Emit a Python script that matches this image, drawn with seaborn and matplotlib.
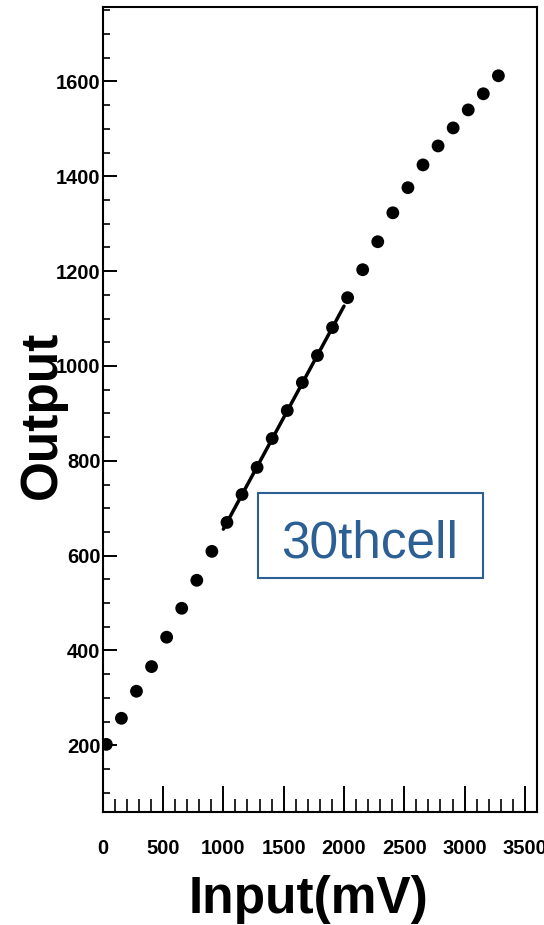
import numpy as np
import pandas as pd
import matplotlib
matplotlib.use("Agg")
import matplotlib.pyplot as plt
from matplotlib.patches import Rectangle
from matplotlib.ticker import MultipleLocator
import seaborn as sns

# Measured response of the 30th cell
input_mv = [30, 155, 280, 405, 530, 655, 780, 905, 1030, 1155, 1280, 1405, 1530,
            1655, 1780, 1905, 2030, 2155, 2280, 2405, 2530, 2655, 2780, 2905,
            3030, 3155, 3280]
output = [202, 257, 314, 366, 428, 489, 548, 609, 670, 729, 786, 847, 906,
          965, 1022, 1081, 1144, 1203, 1262, 1323, 1376, 1424, 1464, 1502,
          1540, 1574, 1612]

# Linear fit range (mV)
fit_lo, fit_hi = 1000, 2000
cell_label = "30thcell"

df = pd.DataFrame({"Input": input_mv, "Output": output})

sns.set_theme(style="ticks")
plt.rcParams["font.family"] = ["Liberation Sans", "DejaVu Sans"]

W, H = 544, 925
fig = plt.figure(figsize=(W / 100, H / 100), dpi=100)
fig.patch.set_facecolor("white")

# axes frame in pixel coordinates
ax_l, ax_r, ax_t, ax_b = 102.7, 537.0, 7.0, 811.7
ax = fig.add_axes([ax_l / W, 1 - ax_b / H, (ax_r - ax_l) / W, (ax_b - ax_t) / H])
ax.set_facecolor("white")

sns.scatterplot(data=df, x="Input", y="Output", ax=ax, color="black",
                s=85, edgecolor="none", linewidth=0, zorder=3)

# straight-line fit over the selected input range
sel = df[(df["Input"] >= fit_lo) & (df["Input"] <= fit_hi)]
slope, intercept = np.polyfit(sel["Input"], sel["Output"], 1)
fit_df = pd.DataFrame({"Input": [fit_lo, fit_hi],
                       "Output": [slope * fit_lo + intercept, slope * fit_hi + intercept]})
sns.lineplot(data=fit_df, x="Input", y="Output", ax=ax, color="black",
             linewidth=2.5, zorder=4)

ax.set_xlim(0, 3600)
ax.set_ylim(60, 1757)

ax.xaxis.set_major_locator(MultipleLocator(500))
ax.xaxis.set_minor_locator(MultipleLocator(100))
ax.yaxis.set_major_locator(MultipleLocator(200))
ax.yaxis.set_minor_locator(MultipleLocator(50))
ax.yaxis.set_major_formatter(matplotlib.ticker.FuncFormatter(lambda v, p: f"{int(v)}"))
ax.xaxis.set_major_formatter(matplotlib.ticker.FuncFormatter(lambda v, p: f"{int(v)}"))

ax.tick_params(axis="x", which="major", direction="in", length=18.5, width=1.4,
               pad=19.5, labelsize=14.5, colors="black")
ax.tick_params(axis="x", which="minor", direction="in", length=9.3, width=1.4)
ax.tick_params(axis="y", which="major", direction="in", length=10, width=1.4,
               pad=1.5, labelsize=14.5, colors="black")
ax.tick_params(axis="y", which="minor", direction="in", length=5, width=1.4)
ax.tick_params(top=False, right=False, which="both")
for lab in ax.get_xticklabels() + ax.get_yticklabels():
    lab.set_fontweight("bold")

for side in ["left", "bottom", "top", "right"]:
    ax.spines[side].set_visible(True)
    ax.spines[side].set_color("black")
    ax.spines[side].set_linewidth(1.5)

ax.set_xlabel("")
ax.set_ylabel("")

# axis titles
fig.text(308 / W, 1 - 913 / H, "Input(mV)", ha="center", va="baseline",
         fontsize=37, fontweight="bold", color="black")
fig.text(55.5 / W, 1 - 415 / H, "Output", ha="center", va="baseline",
         rotation=90, rotation_mode="anchor",
         fontsize=37, fontweight="bold", color="black")

# labelled box for the cell
blue = "#2c5f93"
fig.patches.append(Rectangle((258 / W, 1 - 578 / H), 225 / W, 85 / H,
                             transform=fig.transFigure, fill=True,
                             facecolor="white", edgecolor=blue, linewidth=1.5,
                             zorder=5))
fig.text(369.5 / W, 1 - 557 / H, cell_label, ha="center", va="baseline",
         fontsize=37, color=blue, zorder=6)

fig.savefig("out.png", dpi=100, facecolor="white")
